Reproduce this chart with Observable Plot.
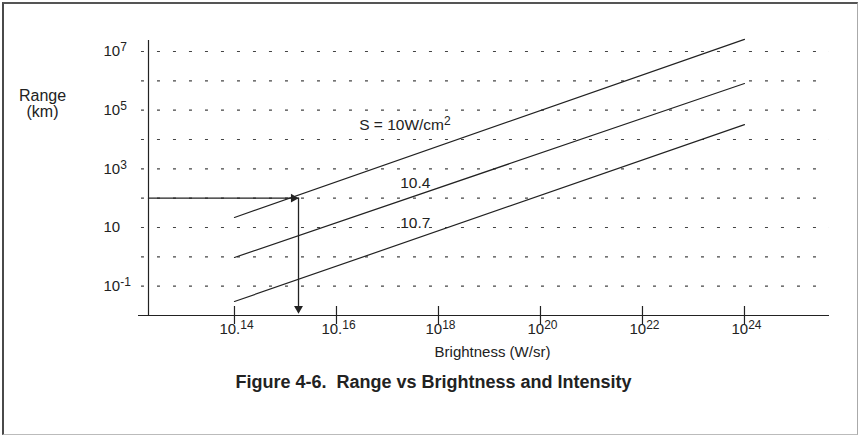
<!DOCTYPE html>
<html>
<head>
<meta charset="utf-8">
<script src="https://cdn.jsdelivr.net/npm/d3@7"></script>
<script src="https://cdn.jsdelivr.net/npm/@observablehq/plot@0.6"></script>
<style>
  html, body { margin: 0; padding: 0; background: #fff; }
  #wrap { position: relative; width: 861px; height: 438px; overflow: hidden; }
  #border { position: absolute; left: 2px; top: 2px; width: 856px; height: 433px;
            border-left: 2px solid #4a4a4a; border-top: 2px solid #555;
            border-right: 1px solid #aaa; border-bottom: 1px solid #bbb; box-sizing: border-box; }
  #chart { position: absolute; left: 0; top: 0; }
  svg text { white-space: pre; }
</style>
</head>
<body>
<div id="wrap"><div id="border"></div><div id="chart"></div></div>
<script>
// ---- data ----
const brightness = [1e14, 1e24];                 // line end points (W/sr)
const rangeS10  = [22, 2.6e7];                   // S = 10 W/cm2
const rangeS4   = [0.95, 8.1e5];                 // 10.4
const rangeS7   = [0.03, 3.2e4];                 // 10.7
const seriesLabels = ["S = 10W/cm^2", "10.4", "10.7"];
const labelBrightness = [2.2e17, 3.5e17, 3.5e17];
const labelRange = [3.0e4, 340, 13.8];

const xTickValues = [1e14, 1e16, 1e18, 1e20, 1e22, 1e24];
const xTickLabels = ["10.^14", "10.^16", "10^18", "10^20", "10^22", "10^24"];
const yTickValues = [1e7, 1e5, 1e3, 10, 0.1];
const yTickLabels = ["10^7", "10^5", "10^3", "10", "10^-1"];
const gridValues = [1e-1, 1e0, 1e1, 1e2, 1e3, 1e4, 1e5, 1e6, 1e7];

const arrowBrightness = 1.8e15;
const arrowRange = 100;

const xTitle = "Brightness (W/sr)";
const yTitle = "Range\n(km)";
const caption = "Figure 4-6.  Range vs Brightness and Intensity";

// ---- scales ----
const xMin = 10 ** 12.314, xMax = 10 ** 25.667;
const yMin = 1e-2, yMax = 10 ** 7.375;
const gridStart = 10 ** 12.176;
const axisStart = 10 ** 12.118;

const toPts = (xs, ys) => xs.map((x, i) => ({x, y: ys[i]}));
const ink = "#222";

const chart = Plot.plot({
  width: 861,
  height: 438,
  marginLeft: 148,
  marginRight: 32,
  marginTop: 40,
  marginBottom: 123,
  style: {fontFamily: "'Liberation Sans', Arial, Helvetica, sans-serif", fontSize: "15px", color: ink, background: "transparent", overflow: "visible"},
  x: {type: "log", domain: [xMin, xMax], axis: null},
  y: {type: "log", domain: [yMin, yMax], axis: null},
  marks: [
    // dotted grid
    Plot.ruleY(gridValues, {y: d => d, x1: gridStart, x2: xMax, stroke: "#444", strokeWidth: 1.2, strokeDasharray: "3,13"}),
    // axes
    Plot.ruleX([xMin], {x: d => d, stroke: ink, strokeWidth: 1.2}),
    Plot.ruleY([yMin], {y: d => d, x1: axisStart, x2: xMax, stroke: ink, strokeWidth: 1.2}),
    Plot.tickX(xTickValues, {x: d => d, stroke: ink, strokeWidth: 1.2, insetTop: 266, insetBottom: -9}),
    // tick labels
    Plot.text(xTickValues, {x: d => d, text: (d, i) => xTickLabels[i], frameAnchor: "bottom", dy: 18, dx: 2, fontSize: 15, fill: ink}),
    Plot.text(yTickValues, {y: d => d, text: (d, i) => yTickLabels[i], frameAnchor: "left", dx: -45, textAnchor: "start", fontSize: 15, fill: ink}),
    // series lines
    Plot.line(toPts(brightness, rangeS10), {x: "x", y: "y", stroke: ink, strokeWidth: 1.2}),
    Plot.line(toPts(brightness, rangeS4), {x: "x", y: "y", stroke: ink, strokeWidth: 1.2}),
    Plot.line(toPts(brightness, rangeS7), {x: "x", y: "y", stroke: ink, strokeWidth: 1.2}),
    Plot.text(seriesLabels, {x: (d, i) => labelBrightness[i], y: (d, i) => labelRange[i], text: d => d, fontSize: 15.5, fill: ink}),
    // arrows
    Plot.line([{x: xMin, y: arrowRange}, {x: arrowBrightness, y: arrowRange}], {x: "x", y: "y", stroke: ink, strokeWidth: 1.3}),
    Plot.ruleX([arrowBrightness], {x: d => d, y1: arrowRange, y2: yMin, stroke: ink, strokeWidth: 1.3, insetBottom: 3}),
    Plot.dot([{x: arrowBrightness, y: arrowRange}], {x: "x", y: "y", symbol: "triangle", rotate: 90, r: 3.3, fill: ink, stroke: null, dx: -5}),
    Plot.dot([{x: arrowBrightness, y: yMin}], {x: "x", y: "y", symbol: "triangle", rotate: 180, r: 3.3, fill: ink, stroke: null, dy: -7}),
    // titles
    Plot.text([xTitle], {frameAnchor: "bottom", dx: 3.5, dy: 41, fontSize: 15, fill: ink}),
    Plot.text([yTitle], {frameAnchor: "top-left", textAnchor: "middle", dx: -106, dy: 49, lineAnchor: "top", lineHeight: 1.0, fontSize: 16, fill: ink}),
    Plot.text([caption], {frameAnchor: "bottom", dx: -55.5, dy: 72, fontSize: 18, fontWeight: "bold", fill: ink})
  ]
});

// turn "base^sup" into real superscripts
const NS = "http://www.w3.org/2000/svg";
chart.querySelectorAll("text").forEach(t => {
  if (t.querySelector("tspan")) return;
  const s = t.textContent;
  if (!s.includes("^")) return;
  const [base, sup] = s.split("^");
  t.textContent = "";
  t.appendChild(document.createTextNode(base));
  const ts = document.createElementNS(NS, "tspan");
  ts.setAttribute("font-size", "12");
  ts.setAttribute("dy", "-5");
  ts.textContent = sup;
  t.appendChild(ts);
});

document.getElementById("chart").appendChild(chart);
</script>
</body>
</html>
